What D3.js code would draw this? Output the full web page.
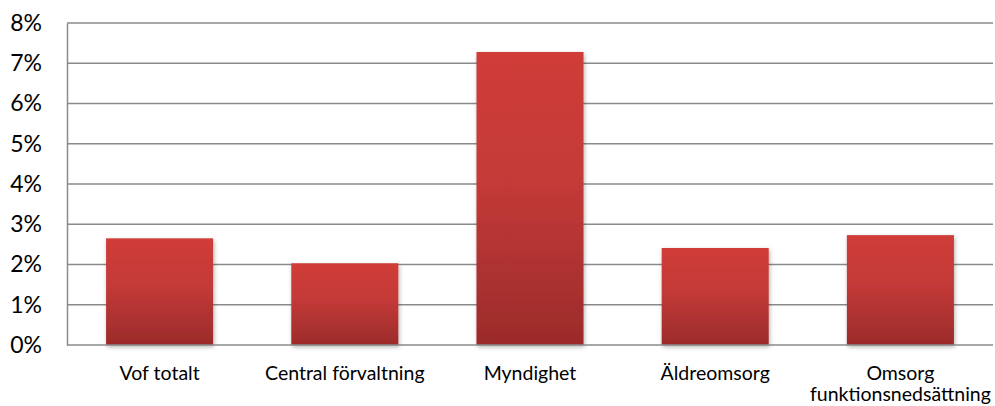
<!DOCTYPE html>
<html>
<head>
<meta charset="utf-8">
<script src="https://cdn.jsdelivr.net/npm/d3@7"></script>
<style>
  body { margin: 0; background: #fff; }
  svg { display: block; font-family: Lato, "Open Sans", sans-serif; }
</style>
</head>
<body>
<svg id="chart" width="995" height="406"></svg>
<script>
const categories = ["Vof totalt", "Central förvaltning", "Myndighet", "Äldreomsorg", "Omsorg funktionsnedsättning"];
const labelLines = [["Vof totalt"], ["Central förvaltning"], ["Myndighet"], ["Äldreomsorg"], ["Omsorg", "funktionsnedsättning"]];
const values = [2.65, 2.03, 7.28, 2.41, 2.73];
const yTicks = [0, 1, 2, 3, 4, 5, 6, 7, 8];

const svg = d3.select("#chart");
const margin = { top: 23, right: 2, bottom: 61, left: 67 };
const width = +svg.attr("width");
const height = +svg.attr("height");

const x = d3.scaleBand()
  .domain(categories)
  .range([margin.left, width - margin.right])
  .paddingInner(0.422)
  .paddingOuter(0.211);

const y = d3.scaleLinear()
  .domain([0, 8])
  .range([height - margin.bottom, margin.top]);

const defs = svg.append("defs");
const grad = defs.append("linearGradient")
  .attr("id", "barGrad")
  .attr("x1", 0).attr("y1", 0).attr("x2", 0).attr("y2", 1);
grad.append("stop").attr("offset", "0%").attr("stop-color", "#d03c39");
grad.append("stop").attr("offset", "45%").attr("stop-color", "#c33a38");
grad.append("stop").attr("offset", "100%").attr("stop-color", "#9b2b2a");

const shadow = defs.append("filter")
  .attr("id", "shadow")
  .attr("x", "-10%").attr("y", "-10%")
  .attr("width", "130%").attr("height", "130%");
shadow.append("feDropShadow")
  .attr("dx", 1).attr("dy", 2)
  .attr("stdDeviation", 2)
  .attr("flood-color", "#000")
  .attr("flood-opacity", 0.3);

// gridlines
svg.append("g")
  .selectAll("line")
  .data(yTicks.filter(d => d > 0))
  .join("line")
  .attr("x1", margin.left)
  .attr("x2", width - margin.right)
  .attr("y1", d => y(d))
  .attr("y2", d => y(d))
  .attr("stroke", "#8a8a8a")
  .attr("stroke-width", 1.5);

// y axis
const yAxis = svg.append("g")
  .attr("transform", `translate(${margin.left},0)`)
  .call(d3.axisLeft(y).tickValues(yTicks).tickFormat(d => d + "%").tickSize(0).tickPadding(25));
yAxis.select(".domain").attr("stroke", "#8a8a8a").attr("stroke-width", 1.5);
yAxis.selectAll("text")
  .attr("font-size", 23)
  .attr("fill", "#000")
  .attr("font-family", "Lato, sans-serif");

// bars
svg.append("g")
  .selectAll("rect")
  .data(values)
  .join("rect")
  .attr("x", (d, i) => x(categories[i]))
  .attr("y", d => y(d))
  .attr("width", x.bandwidth())
  .attr("height", d => y(0) - y(d))
  .attr("fill", "url(#barGrad)")
  .attr("filter", "url(#shadow)");

// x axis baseline
svg.append("line")
  .attr("x1", margin.left)
  .attr("x2", width - margin.right)
  .attr("y1", y(0))
  .attr("y2", y(0))
  .attr("stroke", "#8a8a8a")
  .attr("stroke-width", 1.5);

// category labels
const labels = svg.append("g")
  .selectAll("text")
  .data(categories)
  .join("text")
  .attr("text-anchor", "middle")
  .attr("font-size", 19.5)
  .attr("fill", "#000")
  .attr("transform", d => `translate(${x(d) + x.bandwidth() / 2},${y(0) + 35})`);

labels.selectAll("tspan")
  .data((d, i) => labelLines[i])
  .join("tspan")
  .attr("x", 0)
  .attr("dy", (d, i) => i === 0 ? 0 : 21)
  .text(d => d);
</script>
</body>
</html>
